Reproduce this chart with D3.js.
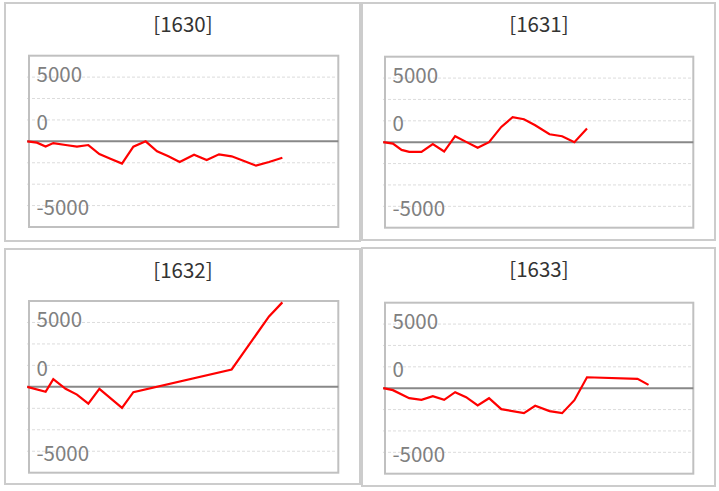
<!DOCTYPE html>
<html>
<head>
<meta charset="utf-8">
<script src="https://cdn.jsdelivr.net/npm/d3@7"></script>
<style>
  html, body { margin: 0; padding: 0; background: #fff; }
  svg { display: block; }
</style>
</head>
<body>
<script>
// ---------------- DATA ----------------
const titles = ["[1630]", "[1631]", "[1632]", "[1633]"];
// shared x positions (day index along the time axis)
const days = [0, 0.83, 1.58, 2.24, 3.30, 4.28, 5.26, 6.21, 7.16, 8.16, 9.14, 10.20,
              11.18, 12.16, 13.13, 14.37, 15.46, 16.52, 17.61, 18.62, 19.71, 20.83, 21.98, 22.93];
const v1630 = [0, -150, -600, -200, -430, -620, -430, -1480, -2020, -2600, -620, 0,
               -1170, -1750, -2410, -1560, -2180, -1520, -1750, -2260, -2840, -2410, -1910, null];
const v1631 = [0, -160, -900, -1130, -1130, -230, -1090, 700, 40, -660, 0, 1790,
               2920, 2680, 1980, 930, 700, 0, 1600, null, null, null, null, null];
const v1632 = [0, null, -580, 900, -230, -900, -1950, -230, null, -2450, -620, null,
               null, null, null, null, null, null, 2020, null, null, 8200, 9840, null];
const v1633 = [0, -230, null, -1170, -1360, -930, -1360, -470, -1050, -2020, -1170, -2450,
               null, -2920, -2060, -2680, -2920, -1400, 1280, null, null, null, 1090, 390];
const seriesValues = [v1630, v1631, v1632, v1633];
const yDomain = [-10000, 10000];
const xDomain = [0, 26.8];
const gridValues = [-7500, -5000, -2500, 2500, 5000, 7500];
const tickLabels = ["5000", "0", "-5000"];
const labelAt = [6950, 1300, -8650];   // where the reference places its axis texts

// ---------------- LAYOUT ----------------
const W = 719, H = 491;
const FONT = "'Noto Sans CJK JP', 'Noto Sans', sans-serif";
const panels = [
  { box: [5, 3, 355, 238],   plot: [29, 55.7, 309.3, 171.3] },
  { box: [362, 3, 353, 237], plot: [385, 56.7, 308.3, 171] },
  { box: [5, 249, 355, 235], plot: [29, 301, 309.3, 171.7] },
  { box: [362, 248, 353, 238], plot: [385, 302.7, 308.3, 171] }
];

const svg = d3.select("body").append("svg").attr("width", W).attr("height", H);
const defs = svg.append("defs");

panels.forEach((p, i) => {
  const [bx, by, bw, bh] = p.box;
  const [px, py, pw, ph] = p.plot;
  const g = svg.append("g");

  g.append("rect").attr("x", bx).attr("y", by).attr("width", bw).attr("height", bh)
    .attr("fill", "#fff").attr("stroke", "#cccccc").attr("stroke-width", 2);

  g.append("text").attr("x", bx + bw / 2 + 0.5).attr("y", by + 28.5)
    .attr("text-anchor", "middle")
    .attr("font-family", FONT)
    .attr("font-size", 20.5).attr("fill", "#333")
    .text(titles[i]);

  const x = d3.scaleLinear().domain(xDomain).range([px - 1.7, px + pw]);
  const y = d3.scaleLinear().domain(yDomain).range([py + ph, py]);

  // dashed gridlines
  g.selectAll("line.grid").data(gridValues).join("line")
    .attr("class", "grid")
    .attr("x1", px - 2).attr("x2", px + pw - 1)
    .attr("y1", d => y(d)).attr("y2", d => y(d))
    .attr("stroke", "#dcdcdc").attr("stroke-width", 1)
    .attr("stroke-dasharray", "3,2");

  // axis texts
  g.selectAll("text.lab").data(tickLabels).join("text")
    .attr("class", "lab")
    .attr("x", px + 7.5)
    .attr("y", (d, k) => y(labelAt[k]))
    .attr("font-family", FONT)
    .attr("font-size", 20.5).attr("fill", "#808080")
    .text(d => d);

  // plot border
  g.append("rect").attr("x", px).attr("y", py).attr("width", pw).attr("height", ph)
    .attr("fill", "none").attr("stroke", "#c0c0c0").attr("stroke-width", 2);

  // zero line
  g.append("line")
    .attr("x1", px - 2).attr("x2", px + pw)
    .attr("y1", y(0)).attr("y2", y(0))
    .attr("stroke", "#888888").attr("stroke-width", 2);

  // clip
  const cid = "clip" + i;
  defs.append("clipPath").attr("id", cid).append("rect")
    .attr("x", px - 3).attr("y", py).attr("width", pw + 3).attr("height", ph);

  const pts = days.map((d, k) => ({ x: d, v: seriesValues[i][k] }))
    .filter(d => d.v !== null && d.v !== undefined);

  const line = d3.line().x(d => x(d.x)).y(d => y(d.v));
  g.append("path").datum(pts)
    .attr("clip-path", `url(#${cid})`)
    .attr("d", line)
    .attr("fill", "none").attr("stroke", "#ff0000").attr("stroke-width", 2.2);
});
</script>
</body>
</html>
